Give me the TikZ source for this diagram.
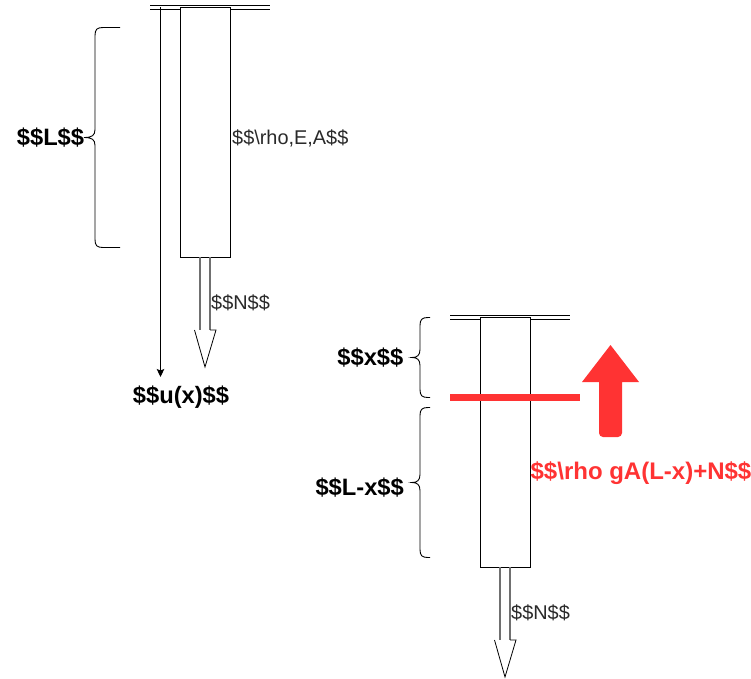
\documentclass[tikz,border=0pt]{standalone}
\usepackage{fontspec}
\setmainfont{Liberation Sans}
\usetikzlibrary{arrows.meta}
\definecolor{redc}{HTML}{FF3333}
\definecolor{txt}{HTML}{2A2A2A}
\definecolor{shaftc}{HTML}{707070}
\tikzset{
  x=1pt,y=-1pt,
  bar/.style={draw=black,fill=white,line width=1pt,minimum width=50pt,minimum height=250pt,inner sep=0pt,outer sep=0pt},
  wall/.style={draw=black,line width=1pt},
  lbl/.style={font=\fontsize{19.9}{24}\selectfont,text=txt,inner sep=0pt},
  blbl/.style={font=\fontsize{23.7}{28}\selectfont\bfseries,text=black,inner sep=0pt},
  rlbl/.style={font=\fontsize{24}{28}\selectfont\bfseries,text=redc,inner sep=0pt},
  brace/.style={draw=black,line width=0.9pt},
  block/.style={draw=black,fill=white,line width=0.8pt},
  blockshaft/.style={draw=shaftc,line width=2pt},
}
\newcommand{\leftbrace}[5]{% tip x, spine x, right x, top y, bottom y
  \pgfmathsetmacro{\midy}{(#4+#5)/2}
  \def\sx{#2}
  \draw[brace] (#3,#4) -- (\sx+8,#4) .. controls (\sx+2,#4) and (\sx,#4+2) .. (\sx,#4+8)
    -- (\sx,\midy-8) .. controls (\sx,\midy-2) and (\sx-3,\midy) .. (#1,\midy)
    .. controls (\sx-3,\midy) and (\sx,\midy+2) .. (\sx,\midy+8)
    -- (\sx,#5-8) .. controls (\sx,#5-2) and (\sx+2,#5) .. (\sx+8,#5) -- (#3,#5);
}
\newcommand{\blockarrow}[1]{% named anchor at top centre of the arrow
  \draw[blockshaft] ([xshift=-5.5pt]#1) -- ([xshift=-5.5pt,yshift=-73pt]#1);
  \draw[blockshaft] ([xshift=4.5pt]#1) -- ([xshift=4.5pt,yshift=-73pt]#1);
  \draw[block,line join=miter] ([xshift=-11pt,yshift=-73pt]#1) -- ([xshift=-5.5pt,yshift=-73pt]#1);
  \draw[block,line join=miter] ([xshift=4.5pt,yshift=-73pt]#1) -- ([xshift=10.5pt,yshift=-73pt]#1) -- ([xshift=-0.5pt,yshift=-110pt]#1) -- ([xshift=-11pt,yshift=-73pt]#1);
}
\begin{document}
\begin{tikzpicture}
\useasboundingbox (0,0) rectangle (751,678);
% left assembly
\coordinate (wa1) at (150,5.5); \coordinate (wa2) at (270,5.5);
\coordinate (wb1) at (150,9.5); \coordinate (wb2) at (270,9.5);
\draw[wall] (wa1) -- (wa2); \draw[wall] (wb1) -- (wb2);
\node[bar] (barA) at (205.5,132) {};
\coordinate (uTop) at (160.5,7);
\coordinate (uEnd) at (160.5,377);
\draw[line width=1pt,-{Stealth[length=8pt,width=7.5pt,inset=1.5pt]}] (uTop) -- (uEnd);
\blockarrow{barA.south}
\leftbrace{84}{95}{120}{27.5}{247.5}
\node[blbl] (Ltxt) at (50.5,138) {\$\$L\$\$};
\node[lbl,anchor=west] (props) at (232,138.5) {\$\$\textbackslash rho,E,A\$\$};
\node[lbl,anchor=west] (NA) at (211,303) {\$\$N\$\$};
\node[blbl] (ux) at (181,397.5) {\$\$u(x)\$\$};
% right assembly
\coordinate (wc1) at (450,315.5); \coordinate (wc2) at (570,315.5);
\coordinate (wd1) at (450,319.5); \coordinate (wd2) at (570,319.5);
\draw[wall] (wc1) -- (wc2); \draw[wall] (wd1) -- (wd2);
\node[bar] (barB) at (505.5,442) {};
\blockarrow{barB.south}
\leftbrace{412}{420}{430}{317.5}{397.5}
\leftbrace{412}{420}{430}{407.5}{557.5}
\node[blbl,anchor=east] (xtxt) at (403.5,357.5) {\$\$x\$\$};
\node[blbl,anchor=east] (Lxtxt) at (404,487.5) {\$\$L-x\$\$};
\node[lbl,anchor=west] (NB) at (511,613) {\$\$N\$\$};
\coordinate (cutL) at (450,397.5); \coordinate (cutR) at (580,397.5);
\draw[draw=redc,line width=7pt] (cutL) -- (cutR);
\fill[redc] (610.5,345) -- (639,382) -- (622,382) -- (622,433) arc (0:90:4) -- (603,437) arc (90:180:4) -- (599,382) -- (582,382) -- cycle;
\node[rlbl] (force) at (641,473) {\$\$\textbackslash rho gA(L-x)+N\$\$};
\end{tikzpicture}
\end{document}
